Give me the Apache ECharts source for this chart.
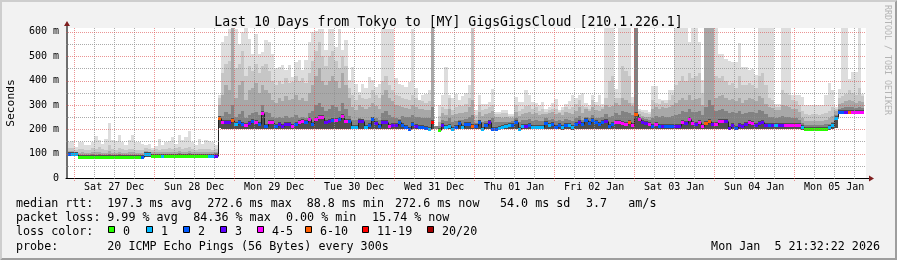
<!DOCTYPE html>
<html>
<head>
<meta charset="utf-8">
<title>SmokePing</title>
<script src="https://cdn.jsdelivr.net/npm/echarts@6.0.0/dist/echarts.min.js"></script>
<style>
html,body{margin:0;padding:0;background:#f2f2f2;}
#chart{width:897px;height:260px;}
</style>
</head>
<body>
<div id="chart"></div>
<script>
// ---------------- data ----------------
const dayLabels = ['Sat 27 Dec','Sun 28 Dec','Mon 29 Dec','Tue 30 Dec','Wed 31 Dec','Thu 01 Jan','Fri 02 Jan','Sat 03 Jan','Sun 04 Jan','Mon 05 Jan'];
const yTickValues = [0,100,200,300,400,500,600];
const yMinorValues = [50,150,250,350,450,550];
const lossLabels = ['0','1','2','3','4-5','6-10','11-19','20/20'];
const lossColors = ['#26ff00','#00b8ff','#0059ff','#5e00ff','#ff00ff','#ff5e00','#ff0000','#a10000'];

// hourly median rtt (ms), one value per hour column
const medianRtt = [
 99,99,97,88,88,88,88,88,88,88,88,88,88,88,88,88,88,88,88,88,
 88,88,88,98,98,92,92,92,92,92,92,92,92,92,92,92,92,92,92,92,
 92,92,92,92,92,245,229,230,230,240,223,230,222,218,227,235,231,220,268,214,
 229,230,213,223,214,223,223,214,223,230,234,230,244,220,244,252,252,230,234,237,
 240,244,253,234,234,210,210,234,234,210,219,244,226,214,230,230,212,219,219,230,
 216,208,203,220,212,210,208,207,203,229,null,197,216,210,212,203,210,227,211,220,
 220,214,214,230,203,219,230,203,203,205,208,212,216,219,230,203,214,214,219,210,
 210,210,210,227,219,222,210,219,208,219,216,208,220,230,222,237,227,240,230,223,
 230,235,214,220,230,230,227,223,230,219,262,244,230,227,223,212,223,212,214,212,
 212,214,214,214,230,227,244,227,223,230,215,227,233,223,223,233,235,235,205,219,
 205,219,212,220,230,227,219,227,230,219,219,219,219,219,219,219,219,219,219,219,
 210,203,203,203,203,203,203,203,208,216,246,272,272,272,272,272,272,272,272,null
];
// loss bucket index into lossColors
const lossBucket = [
 2,1,1,0,0,0,0,0,0,0,0,0,0,0,0,0,0,0,0,0,
 0,0,2,1,1,0,0,0,1,0,0,0,0,0,0,0,0,0,0,0,
 0,0,1,1,3,5,4,3,3,5,1,2,2,4,3,2,4,2,4,2,
 4,4,2,3,3,3,3,4,2,4,4,2,4,2,4,4,4,3,3,2,
 4,2,4,4,2,1,1,3,3,1,2,2,3,2,3,3,4,3,3,2,
 2,2,2,2,3,2,2,2,1,6,0,0,3,1,1,1,2,2,1,2,
 2,5,2,2,1,2,3,2,2,1,1,1,1,2,2,1,1,3,2,1,
 1,1,1,2,1,2,2,2,1,2,1,1,2,3,2,2,2,2,2,2,
 2,3,2,2,4,4,4,4,5,4,5,4,3,3,4,2,4,2,3,2,
 2,2,3,3,4,3,4,4,3,4,4,5,5,3,4,4,4,3,3,3,
 2,3,3,3,4,4,3,3,3,3,2,3,1,3,3,4,4,4,4,4,
 1,0,0,0,0,0,0,0,1,1,1,2,2,3,5,4,4,4,4,4
];
// smoke: lowest ping, three intermediate quantiles and highest ping (ms)
const pingMin = [
 95,95,94,86,86,86,86,86,86,86,86,86,86,86,86,86,86,86,86,86,
 86,86,86,88,88,89,89,89,89,89,89,89,89,89,89,89,89,89,89,89,
 89,89,89,89,89,205,203,203,203,203,203,203,203,203,203,203,203,203,203,203,
 202,201,201,201,201,202,201,201,201,201,201,202,201,201,202,202,201,201,201,201,
 201,201,202,201,201,200,200,201,201,200,200,201,201,200,201,201,200,200,200,200,
 200,200,199,200,200,200,200,200,199,201,200,195,200,200,200,199,200,200,200,200,
 200,200,200,200,199,200,200,199,199,199,200,200,200,200,200,199,200,200,200,200,
 200,200,200,200,200,200,200,200,199,200,200,199,200,200,200,200,200,200,200,200,
 200,200,200,200,200,200,200,200,200,200,201,200,200,200,200,200,200,200,200,200,
 200,200,200,200,200,200,200,200,200,200,200,200,200,200,200,200,200,200,199,200,
 199,200,200,200,200,200,200,200,200,200,200,200,200,200,200,200,200,200,200,200,
 199,198,198,198,198,198,198,198,199,200,205,266,266,266,266,266,266,266,266,null
];
const smokeQ1 = [
 104,103,100,95,96,96,95,97,96,97,96,95,98,96,95,97,96,95,96,96,
 96,95,96,104,103,99,100,99,100,99,100,99,100,101,99,100,101,100,99,100,
 100,99,100,100,101,245,255,270,262,300,250,262,275,248,258,268,272,258,300,272,
 265,250,245,252,248,255,246,250,260,248,252,246,265,275,300,310,292,275,282,300,
 292,275,310,282,255,240,238,245,242,238,240,250,245,238,265,275,258,250,245,242,
 255,252,250,258,252,250,248,246,245,290,212,215,238,235,245,232,236,240,238,242,
 250,260,225,240,230,236,240,245,232,230,228,230,232,234,245,232,238,240,242,236,
 238,235,236,245,240,242,236,240,235,242,238,236,245,255,240,252,246,258,248,245,
 250,262,250,255,268,260,275,270,265,258,616,250,245,242,240,248,255,250,255,250,
 252,255,258,262,275,270,285,270,272,275,260,290,320,300,275,280,285,275,268,270,
 265,275,262,268,272,270,265,278,275,262,252,250,248,250,255,252,250,248,246,240,
 225,218,217,218,218,217,218,220,222,230,260,285,288,290,292,290,286,290,288,null
];
const smokeQ2 = [
 112,110,106,103,105,104,103,106,105,108,104,103,110,104,103,108,104,103,106,105,
 104,103,104,110,108,106,108,106,107,106,108,106,108,110,106,108,110,108,106,107,
 107,106,107,106,108,300,340,380,360,616,330,380,400,320,360,370,390,350,380,360,
 350,320,310,330,315,335,320,325,340,320,330,315,350,380,420,450,400,380,400,420,
 400,370,430,380,330,290,280,300,292,285,290,310,295,285,340,360,330,315,300,295,
 292,288,285,298,290,285,282,280,280,616,212,230,265,260,285,258,262,268,265,272,
 290,320,240,270,255,262,268,275,252,250,248,250,246,248,272,255,262,268,270,262,
 265,258,262,262,266,270,262,268,260,270,265,262,275,290,268,285,275,292,280,276,
 285,300,290,295,310,300,330,320,310,295,616,262,255,252,250,282,290,285,292,288,
 290,300,310,320,330,320,340,320,325,330,300,616,616,616,330,335,340,330,320,325,
 315,330,310,320,330,325,315,335,330,305,290,288,280,280,300,295,290,285,282,270,
 245,236,234,236,235,234,236,240,245,255,275,305,310,315,320,315,308,318,312,null
];
const smokeQ3 = [
 125,122,115,120,118,116,115,122,120,128,118,116,135,118,116,125,118,115,120,118,
 116,115,116,122,120,115,118,116,120,118,122,118,122,126,118,124,128,120,116,120,
 118,120,118,116,118,330,430,470,480,616,450,470,520,420,460,440,470,430,460,470,
 440,400,380,400,385,410,390,395,420,400,410,390,430,480,520,560,500,460,500,520,
 480,450,500,460,370,340,320,340,330,325,330,360,340,330,400,420,380,360,340,335,
 330,325,320,340,330,320,315,310,315,616,212,255,290,285,330,280,290,300,295,305,
 330,616,260,300,280,285,290,300,262,262,265,268,255,255,300,275,285,295,300,285,
 290,275,285,270,280,285,285,272,280,290,285,290,305,320,295,290,285,320,300,296,
 290,330,400,420,330,330,460,440,420,310,616,275,270,268,262,320,310,305,315,310,
 320,340,380,400,420,400,430,410,420,430,350,616,616,616,420,410,420,400,380,390,
 370,420,380,380,390,380,370,420,430,380,330,320,290,290,360,350,340,320,315,300,
 275,262,260,262,262,260,262,265,275,290,285,330,335,345,360,350,340,370,335,null
];
const pingMax = [
 148,151,128,146,146,135,137,148,172,155,141,159,227,155,151,175,148,137,155,178,
 146,148,141,137,141,124,132,162,135,148,151,169,141,178,155,169,195,148,135,162,
 141,155,151,146,135,341,559,585,612,616,612,552,600,616,572,511,593,511,518,566,
 559,511,450,456,463,443,463,416,477,484,443,484,559,600,605,612,612,525,612,612,
 538,612,525,566,402,456,388,354,388,368,416,402,375,388,612,612,612,612,409,388,
 381,375,395,612,368,320,341,347,360,616,212,300,340,455,340,330,345,320,335,350,
 380,616,278,342,305,305,312,367,271,271,278,278,262,262,333,312,312,360,340,312,
 310,300,312,285,292,310,323,278,292,305,315,340,330,340,350,310,299,340,312,340,
 305,615,615,615,367,615,615,615,615,333,616,285,278,278,271,377,377,326,319,319,
 360,360,615,615,615,615,558,615,615,558,401,616,616,616,615,510,510,490,479,476,
 476,555,455,455,442,449,421,615,615,615,615,615,305,305,615,615,615,340,340,340,
 333,301,301,301,301,301,301,340,390,360,292,367,615,615,408,435,435,615,346,null
];

const statsRtt = ['median rtt:','197.3 ms avg','272.6 ms max','88.8 ms min','272.6 ms now','54.0 ms sd','3.7','am/s'];
const statsLoss = ['packet loss:','9.99 % avg','84.36 % max','0.00 % min','15.74 % now'];
const titleText = 'Last 10 Days from Tokyo to [MY] GigsGigsCloud [210.1.226.1]';
const probeLabel = 'probe:';
const probeText = '20 ICMP Echo Pings (56 Bytes) every 300s';
const stampText = 'Mon Jan  5 21:32:22 2026';
const watermark = 'RRDTOOL / TOBI OETIKER';

// ---------------- layout / style ----------------
const FONT = 'DejaVu Sans Mono';
const LEG_SIZE = 11.7;
const SPAN_H = 240;          // 10 days in hours, graph start = Dec 26 21:32:22
const FIRST_HOUR = 0.4606;   // first full hour boundary after start
const FIRST_MIDNIGHT = 2.4606;
const Y_MAX = 616;
const MAJOR = 'rgba(222,79,79,0.6)';
const MINOR = 'rgba(143,143,143,0.75)';
const SMOKE = ['#dddddd', '#c6c6c6', '#a8a8a8', '#828282', '#4e4e4e'];
const rttX = [16,107.3,207.3,306.7,395,500,586,628.3];
const lossX = [16,107.3,193.3,286,372];
const legendBoxX = [108,146,183,220,257,305,362,427];

const vGrid = [];
for (let k = 0; FIRST_MIDNIGHT + 6*k <= SPAN_H; k++) vGrid.push([FIRST_MIDNIGHT + 6*k, k % 4 === 0 ? 1 : 0]);
const hGrid = yMinorValues.map(v => [0, v, 0]).concat(yTickValues.filter(v => v > 0).map(v => [0, v, 1]));
const noonTicks = dayLabels.map((_, k) => FIRST_MIDNIGHT + 12 + 24*k);
const hourIdx = medianRtt.map((_, i) => [FIRST_HOUR + i, i]);

function colPx(api, i) {
  const x0 = FIRST_HOUR + i, x1 = Math.min(x0 + 1, SPAN_H);
  return [Math.round(api.coord([x0, 0])[0]), Math.round(api.coord([x1, 0])[0])];
}
function yPx(api, v) { return Math.round(api.coord([0, Math.min(v, Y_MAX)])[1]); }

function smokeItem(params, api) {
  const i = api.value(1);
  if (pingMax[i] == null) return null;
  const [a, b] = colPx(api, i);
  const base = yPx(api, pingMin[i]);
  const bands = [[pingMax[i], SMOKE[0]], [smokeQ3[i], SMOKE[1]], [smokeQ2[i], SMOKE[2]], [smokeQ1[i], SMOKE[3]]];
  const children = bands.map(([v, c]) => {
    const t = yPx(api, v);
    return {type: 'rect', shape: {x: a, y: t, width: b - a, height: base - t}, style: {fill: c}};
  });
  if (medianRtt[i] != null) {
    const t = yPx(api, medianRtt[i]) - 2;
    children.push({type: 'rect', shape: {x: a, y: t, width: b - a, height: base - t}, style: {fill: SMOKE[4]}});
  }
  return {type: 'group', children};
}

function medianItem(params, api) {
  const i = api.value(1);
  const m = medianRtt[i];
  if (m == null) return null;
  const [a, b] = colPx(api, i);
  const y = yPx(api, m);
  const children = [];
  const prev = i > 0 ? medianRtt[i - 1] : null;
  if (prev != null) {
    const yp = yPx(api, prev);
    children.push({type: 'line', shape: {x1: a + 0.5, y1: yp + 0.5, x2: a + 0.5, y2: y + 0.5}, style: {stroke: '#202020', lineWidth: 1}});
  }
  children.push({type: 'rect', shape: {x: a, y: y - 1, width: b - a, height: 3}, style: {fill: lossColors[lossBucket[i]]}});
  return {type: 'group', children};
}

function vGridItem(params, api) {
  const cs = params.coordSys;
  const major = api.value(1);
  const x = Math.round(api.coord([api.value(0), 0])[0]) + 0.5;
  return {type: 'line', shape: {x1: x, y1: cs.y, x2: x, y2: cs.y + cs.height + (major ? 3 : 2)},
          style: {stroke: major ? MAJOR : MINOR, lineWidth: 1, lineDash: [1, 1]}};
}
function hGridItem(params, api) {
  const cs = params.coordSys;
  const major = api.value(2);
  const y = yPx(api, api.value(1)) + 0.5;
  return {type: 'line', shape: {x1: cs.x, y1: y, x2: cs.x + cs.width, y2: y},
          style: {stroke: major ? MAJOR : MINOR, lineWidth: 1, lineDash: [1, 1]}};
}

function txt(x, y, s, align) {
  return {type: 'text', x: x, y: y, silent: true,
    style: {text: s, fontFamily: FONT, fontSize: LEG_SIZE, fill: '#000', align: align || 'left', verticalAlign: 'middle'}};
}

const graphics = [];
// 3D frame
graphics.push({type: 'polygon', silent: true, shape: {points: [[0,0],[897,0],[895,2],[2,2],[2,258],[0,260]]}, style: {fill: '#cecece'}});
graphics.push({type: 'polygon', silent: true, shape: {points: [[897,0],[897,260],[0,260],[2,258],[895,258],[895,2]]}, style: {fill: '#9e9e9e'}});
// axis extensions and arrows
graphics.push({type: 'line', silent: true, shape: {x1: 67, y1: 28, x2: 67, y2: 25}, style: {stroke: '#6e6e6e', lineWidth: 2}});
graphics.push({type: 'polygon', silent: true, shape: {points: [[64,26],[70,26],[67,21]]}, style: {fill: '#7f1f1f'}});
graphics.push({type: 'line', silent: true, shape: {x1: 866, y1: 178.5, x2: 870, y2: 178.5}, style: {stroke: '#000', lineWidth: 1}});
graphics.push({type: 'polygon', silent: true, shape: {points: [[869,175.5],[869,181.5],[874,178.5]]}, style: {fill: '#7f1f1f'}});
// legend lines
statsRtt.forEach((s, k) => graphics.push(txt(rttX[k], 204, s)));
statsLoss.forEach((s, k) => graphics.push(txt(lossX[k], 218.3, s)));
graphics.push(txt(16, 232, 'loss color:'));
lossLabels.forEach((s, k) => {
  graphics.push({type: 'rect', silent: true, shape: {x: legendBoxX[k] + 0.5, y: 226.5, width: 6, height: 6},
                 style: {fill: lossColors[k], stroke: '#000', lineWidth: 1}});
  graphics.push(txt(legendBoxX[k] + 15, 232, s));
});
graphics.push(txt(16, 246.7, probeLabel));
graphics.push(txt(107.3, 246.7, probeText));
graphics.push(txt(880, 246.7, stampText, 'right'));
// watermark
graphics.push({type: 'text', silent: true, x: 886.7, y: 5, rotation: -Math.PI / 2,
  style: {text: watermark, fontFamily: FONT, fontSize: 8.3, fill: '#b4b4b4', align: 'left', verticalAlign: 'middle'}});

const chart = echarts.init(document.getElementById('chart'), null, {renderer: 'canvas', width: 897, height: 260});
chart.setOption({
  animation: false,
  backgroundColor: '#f2f2f2',
  title: {text: titleText, left: 'center', top: 11,
          textStyle: {fontFamily: FONT, fontSize: 13.2, fontWeight: 'normal', color: '#000'}},
  grid: {left: 66, top: 28, width: 800, height: 150, show: true, backgroundColor: '#ffffff', borderWidth: 0,
         containLabel: false, outerBoundsMode: 'none'},
  xAxis: {
    type: 'value', min: 0, max: SPAN_H,
    axisLine: {show: true, onZero: false, lineStyle: {color: '#000', width: 1}},
    axisTick: {show: false}, splitLine: {show: false},
    axisLabel: {customValues: noonTicks, fontFamily: FONT, fontSize: 10, color: '#000', margin: 4,
      formatter: v => dayLabels[Math.round((v - FIRST_MIDNIGHT - 12) / 24)] || ''}
  },
  yAxis: {
    type: 'value', min: 0, max: Y_MAX, interval: 100, offset: -1,
    name: 'Seconds', nameLocation: 'middle', nameGap: 50, nameRotate: 90,
    nameTextStyle: {fontFamily: FONT, fontSize: 11.3, color: '#000'},
    axisLine: {show: true, lineStyle: {color: '#6e6e6e', width: 2}},
    axisTick: {show: false}, splitLine: {show: false},
    axisLabel: {customValues: yTickValues, fontFamily: FONT, fontSize: 10, color: '#000', margin: 8,
      formatter: v => v === 0 ? '0' : v + ' m'}
  },
  series: [
    {type: 'custom', name: 'smoke', renderItem: smokeItem, data: hourIdx, z: 1, silent: true, encode: {x: 0}},
    {type: 'custom', name: 'median', renderItem: medianItem, data: hourIdx, z: 3, silent: true, encode: {x: 0}},
    {type: 'custom', name: 'vgrid', renderItem: vGridItem, data: vGrid, z: 5, silent: true, encode: {x: 0}},
    {type: 'custom', name: 'hgrid', renderItem: hGridItem, data: hGrid, z: 5, silent: true, encode: {x: 0, y: 1}}
  ],
  graphic: graphics
});
</script>
</body>
</html>
